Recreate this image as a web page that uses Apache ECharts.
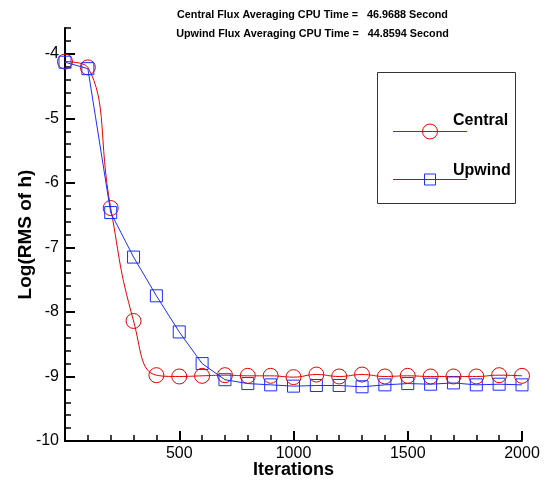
<!DOCTYPE html>
<html>
<head>
<meta charset="utf-8">
<script src="https://cdn.jsdelivr.net/npm/echarts@6/dist/echarts.min.js"></script>
<style>html,body{margin:0;padding:0;background:#fff}#c{width:548px;height:481px}</style>
</head>
<body>
<div id="c"></div>
<script>
const iterations = [0,100,200,300,400,500,600,700,800,900,1000,1100,1200,1300,1400,1500,1600,1700,1800,1900,2000];
const central = [-4.12,-4.21,-6.39,-8.14,-8.98,-9.00,-8.99,-8.98,-8.99,-8.99,-9.01,-8.97,-9.00,-8.97,-9.00,-8.99,-9.00,-9.00,-9.00,-8.98,-8.99];
const upwind = [-4.13,-4.23,-6.46,-7.15,-7.75,-8.31,-8.80,-9.05,-9.11,-9.13,-9.15,-9.14,-9.14,-9.16,-9.13,-9.11,-9.12,-9.10,-9.13,-9.12,-9.13];
const yMajorTicks = [-10,-9,-8,-7,-6,-5,-4];
const titleLines = ['Central Flux Averaging CPU Time =   46.9688 Second','Upwind Flux Averaging CPU Time =   44.8594 Second'];
const seriesNames = ['Central','Upwind'];

const FONT = '"Liberation Sans", Arial, Helvetica, sans-serif';
const RED = '#e60000';
const BLUE = '#1a2eff';

const chart = echarts.init(document.getElementById('c'), null, {renderer:'canvas'});
const pair = (xs, ys) => xs.map((x,i)=>[x, ys[i]]);

chart.setOption({
  animation:false,
  backgroundColor:'#fff',
  title: titleLines.map((t,i)=>({
    text:t, left:307.5, top: 5 + i*19, textAlign:'center',
    textStyle:{fontFamily:FONT, fontSize:10.8, fontWeight:'bold', color:'#000'}
  })),
  grid:{left:65, right:26, top:28, bottom:40, containLabel:false, outerBoundsMode:'none'},
  xAxis:{
    type:'value', min:0, max:2000, interval:500,
    name:'Iterations', nameLocation:'middle', nameGap:20, nameMoveOverlap:false,
    nameTextStyle:{fontFamily:FONT, fontSize:18, fontWeight:'bold', color:'#000'},
    axisLine:{show:true, onZero:false, lineStyle:{color:'#000', width:2}},
    axisTick:{show:true, inside:true, length:10, lineStyle:{color:'#000', width:2}},
    minorTick:{show:true, splitNumber:5, length:6, lineStyle:{color:'#000', width:1.5}},
    axisLabel:{showMinLabel:false, fontFamily:FONT, fontSize:16, color:'#000', margin:5, formatter:(v)=>String(v)},
    splitLine:{show:false}
  },
  yAxis:[{
    type:'value', min:-10, max:-3.6, interval:1,
    name:'Log(RMS of h)', nameLocation:'middle', nameGap:30, nameRotate:90, nameMoveOverlap:false,
    nameTextStyle:{fontFamily:FONT, fontSize:19, fontWeight:'bold', color:'#000'},
    axisLine:{show:true, onZero:false, lineStyle:{color:'#000', width:2}},
    axisTick:{show:true, inside:true, length:10, lineStyle:{color:'#000', width:2}, customValues:yMajorTicks},
    axisLabel:{fontFamily:FONT, fontSize:16, color:'#000', margin:6, customValues:yMajorTicks, formatter:(v)=>String(v)},
    splitLine:{show:false}
  },{
    type:'value', min:-10, max:-3.6, interval:0.2, position:'left', offset:0,
    axisLine:{show:false},
    axisTick:{show:true, inside:true, length:6, lineStyle:{color:'#000', width:1.5}},
    axisLabel:{show:false},
    splitLine:{show:false}
  }],
  series:[{
    name:seriesNames[0], type:'line', smooth:0.5, yAxisIndex:0,
    data: pair(iterations, central),
    symbol:'circle', symbolSize:15,
    lineStyle:{color:RED, width:1},
    itemStyle:{color:'rgba(0,0,0,0)', borderColor:RED, borderWidth:1},
    z:2
  },{
    name:seriesNames[1], type:'line', smooth:false, yAxisIndex:0,
    data: pair(iterations, upwind),
    symbol:'rect', symbolSize:12,
    lineStyle:{color:BLUE, width:1},
    itemStyle:{color:'rgba(0,0,0,0)', borderColor:BLUE, borderWidth:1},
    z:3
  }],
  graphic:[
    {type:'rect', shape:{x:377.5, y:72.5, width:138, height:131}, style:{fill:'none', stroke:'#333', lineWidth:1}},
    {type:'line', shape:{x1:393, y1:131.5, x2:467, y2:131.5}, style:{stroke:RED, lineWidth:1}},
    {type:'circle', shape:{cx:430, cy:131.5, r:7.5}, style:{fill:'none', stroke:RED, lineWidth:1}},
    {type:'text', x:453, y:121, style:{text:seriesNames[0], fontFamily:FONT, fontSize:16, fontWeight:'bold', fill:'#000', verticalAlign:'middle'}},
    {type:'line', shape:{x1:393, y1:179.5, x2:467, y2:179.5}, style:{stroke:BLUE, lineWidth:1}},
    {type:'rect', shape:{x:424.5, y:174, width:11, height:11}, style:{fill:'none', stroke:BLUE, lineWidth:1}},
    {type:'text', x:453, y:171, style:{text:seriesNames[1], fontFamily:FONT, fontSize:16, fontWeight:'bold', fill:'#000', verticalAlign:'middle'}}
  ]
});
</script>
</body>
</html>
